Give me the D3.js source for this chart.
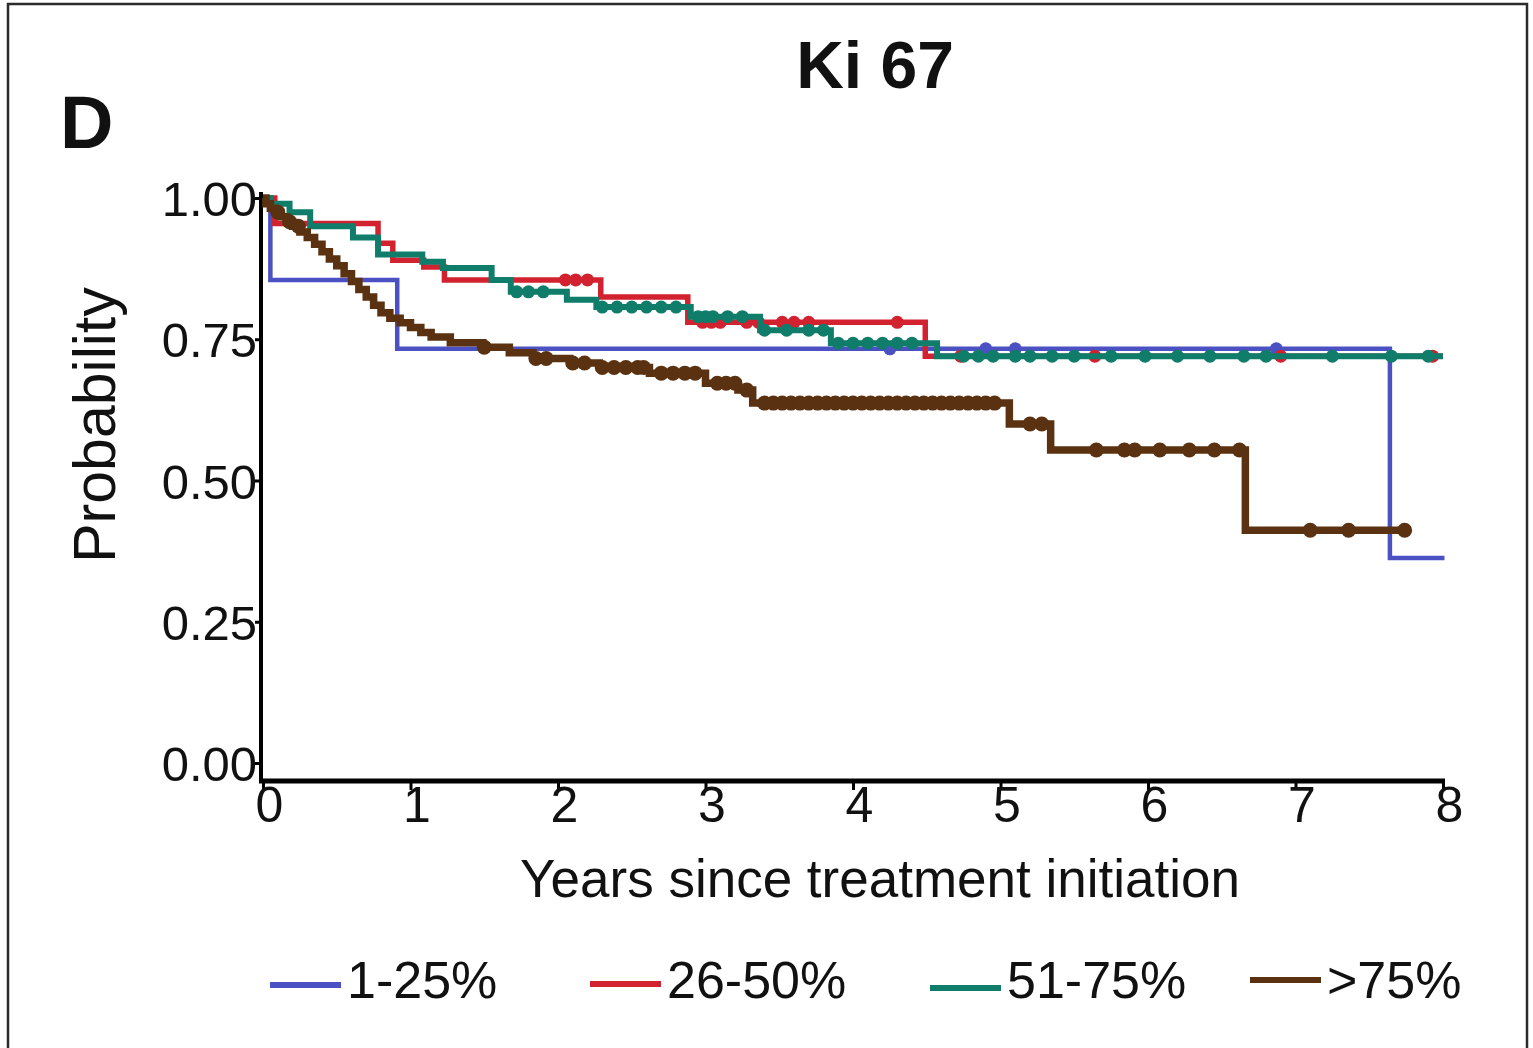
<!DOCTYPE html>
<html>
<head>
<meta charset="utf-8">
<script src="https://cdn.jsdelivr.net/npm/d3@7"></script>
<style>
  html, body { margin: 0; padding: 0; background: #ffffff; }
  svg { display: block; }
  text { font-family: "Liberation Sans", Arial, sans-serif; fill: #111; }
</style>
</head>
<body>
<svg id="chart" width="1533" height="1048"></svg>
<script>
// Kaplan-Meier curves by Ki 67 group: step times (years) and survival probability
const groups = ["1-25%", "26-50%", "51-75%", ">75%"];
const colors = ["#4b50c2", "#d3222f", "#0f7d6a", "#5a3211"];
const lineWidths = [4.5, 5.5, 6, 7.5];
const endTimes = [8.01, 8.0, 8.0, 7.78];

const blueTimes = [0, 0.05, 0.91, 7.64];
const blueSurv  = [1.0, 0.855, 0.733, 0.363];
const blueCensor = [4.25, 4.9, 5.1, 6.87];

const redTimes = [0, 0.08, 0.78, 0.88, 1.09, 1.23, 2.29, 2.88, 4.49];
const redSurv  = [1.0, 0.955, 0.92, 0.89, 0.878, 0.855, 0.825, 0.78, 0.72];
const redCensor = [2.05, 2.12, 2.2, 2.98, 3.04, 3.1, 3.28, 3.36, 3.52, 3.6, 3.7, 4.3, 4.73, 5.64, 6.9, 7.93];

const tealTimes = [0, 0.05, 0.18, 0.32, 0.61, 0.78, 1.08, 1.22, 1.55, 1.68, 2.06, 2.26, 2.9, 3.37, 3.85, 4.57];
const tealSurv  = [1.0, 0.99, 0.975, 0.95, 0.93, 0.9, 0.887, 0.876, 0.855, 0.834, 0.82, 0.807, 0.79, 0.766, 0.743, 0.72];
const tealCensor = [1.72, 1.8, 1.9, 2.3, 2.4, 2.5, 2.6, 2.7, 2.8, 2.95, 3.0, 3.05, 3.15, 3.25, 3.4, 3.55, 3.7, 3.8, 3.9, 4.0, 4.1, 4.2, 4.3, 4.4,
                    4.75, 4.85, 4.95, 5.1, 5.2, 5.35, 5.5, 5.75, 5.98, 6.2, 6.42, 6.65, 6.8, 7.25, 7.65, 7.9];

const brownTimes = [0, 0.02, 0.05, 0.08, 0.12, 0.16, 0.2, 0.25, 0.3, 0.35, 0.4, 0.45, 0.5, 0.55, 0.6, 0.65, 0.7, 0.75, 0.8, 0.86, 0.93,
                    1.0, 1.07, 1.14, 1.27, 1.49, 1.67, 1.83, 2.08, 2.28, 2.62, 3.0, 3.22, 3.32, 5.06, 5.34, 6.66];
const brownSurv  = [1.0, 0.99, 0.982, 0.975, 0.967, 0.958, 0.95, 0.94, 0.93, 0.918, 0.905, 0.892, 0.88, 0.866, 0.852, 0.838, 0.825, 0.81,
                    0.797, 0.787, 0.779, 0.771, 0.762, 0.754, 0.744, 0.736, 0.726, 0.716, 0.708, 0.7, 0.69, 0.672, 0.66, 0.637, 0.60,
                    0.554, 0.412];
const brownCensor = [0.1, 0.18, 0.24, 1.5, 1.85, 1.92, 2.1, 2.18, 2.3, 2.38, 2.46, 2.54, 2.58, 2.7, 2.78, 2.86, 2.93, 3.08, 3.14, 3.2,
                     3.28, 3.4, 3.46, 3.52, 3.58, 3.64, 3.7, 3.76, 3.82, 3.88, 3.94, 4.0, 4.06, 4.12, 4.18, 4.24, 4.3, 4.36, 4.42,
                     4.48, 4.54, 4.6, 4.66, 4.72, 4.78, 4.84, 4.9, 4.96, 5.2, 5.28, 5.65, 5.84, 5.91, 6.08, 6.28, 6.45, 6.62,
                     7.1, 7.36, 7.74];

const seriesTimes = [blueTimes, redTimes, tealTimes, brownTimes];
const seriesSurv = [blueSurv, redSurv, tealSurv, brownSurv];
const seriesCensor = [blueCensor, redCensor, tealCensor, brownCensor];

const xTicks = [0, 1, 2, 3, 4, 5, 6, 7, 8];
const yTicks = [0, 0.25, 0.5, 0.75, 1.0];

const svg = d3.select("#chart");

// outer frame
svg.append("rect")
  .attr("x", 8).attr("y", 4).attr("width", 1519).attr("height", 1060)
  .attr("fill", "none").attr("stroke", "#2b2b2b").attr("stroke-width", 2.5);

const x = d3.scaleLinear().domain([0, 8]).range([263, 1443]);
const y = d3.scaleLinear().domain([0, 1]).range([763, 198]);
const axisY = 781;

// y axis
const yAxis = svg.append("g")
  .attr("transform", "translate(261,0)")
  .call(d3.axisLeft(y).tickValues(yTicks).tickFormat(d3.format(".2f")).tickSize(6).tickPadding(-2));
yAxis.select(".domain").remove();
yAxis.selectAll(".tick line").attr("stroke", "#000").attr("stroke-width", 3);
yAxis.selectAll(".tick text")
  .style("font-size", "49px").attr("fill", "#222").attr("dy", "0.36em");
svg.append("line")
  .attr("x1", 261).attr("x2", 261).attr("y1", 192).attr("y2", axisY + 2)
  .attr("stroke", "#000").attr("stroke-width", 4);

// x axis
const xAxis = svg.append("g")
  .attr("transform", `translate(0,${axisY})`)
  .call(d3.axisBottom(x).tickValues(xTicks).tickFormat(d3.format("d")).tickSize(9).tickPadding(-4));
xAxis.select(".domain").remove();
xAxis.selectAll(".tick line").attr("stroke", "#000").attr("stroke-width", 3);
xAxis.selectAll(".tick text")
  .style("font-size", "50px").attr("fill", "#222").attr("dx", "6").attr("dy", "0.71em");
svg.append("line")
  .attr("x1", 259).attr("x2", 1445).attr("y1", axisY).attr("y2", axisY)
  .attr("stroke", "#000").attr("stroke-width", 5);

// axis titles
svg.append("text")
  .attr("x", 880).attr("y", 897).attr("text-anchor", "middle")
  .style("font-size", "53px").attr("fill", "#222")
  .text("Years since treatment initiation");
svg.append("text")
  .attr("transform", "translate(115,425) rotate(-90)").attr("text-anchor", "middle")
  .style("font-size", "59px").attr("fill", "#222")
  .text("Probability");

// title and panel letter
svg.append("text")
  .attr("x", 875).attr("y", 88).attr("text-anchor", "middle")
  .style("font-size", "66px").style("font-weight", "bold").attr("fill", "#000")
  .text("Ki 67");
svg.append("text")
  .attr("x", 60).attr("y", 148)
  .style("font-size", "74px").style("font-weight", "bold").attr("fill", "#000")
  .text("D");

// survival curves
const line = d3.line()
  .x(d => x(d[0])).y(d => y(d[1]))
  .curve(d3.curveStepAfter);

groups.forEach((g, i) => {
  const t = seriesTimes[i], s = seriesSurv[i];
  const pts = t.map((ti, k) => [ti, s[k]]);
  pts.push([endTimes[i], s[s.length - 1]]);
  const grp = svg.append("g").attr("class", "km");
  grp.append("path")
    .attr("d", line(pts))
    .attr("fill", "none")
    .attr("stroke", colors[i])
    .attr("stroke-width", lineWidths[i])
    .attr("stroke-linejoin", "miter");
  // censoring marks at the survival level in force at each time
  grp.selectAll("circle")
    .data(seriesCensor[i])
    .join("circle")
    .attr("cx", d => x(d))
    .attr("cy", d => y(s[d3.bisectRight(t, d) - 1]))
    .attr("r", i === 3 ? 7.5 : 6.5)
    .attr("fill", colors[i]);
});

// legend
const legendX = [270, 590, 930, 1250];
const legendY = [985, 984, 988, 980];
groups.forEach((g, i) => {
  svg.append("line")
    .attr("x1", legendX[i]).attr("x2", legendX[i] + 71)
    .attr("y1", legendY[i]).attr("y2", legendY[i])
    .attr("stroke", colors[i]).attr("stroke-width", 6);
  svg.append("text")
    .attr("x", legendX[i] + 77).attr("y", 998)
    .style("font-size", "52px").attr("fill", "#222")
    .text(g);
});
</script>
</body>
</html>
